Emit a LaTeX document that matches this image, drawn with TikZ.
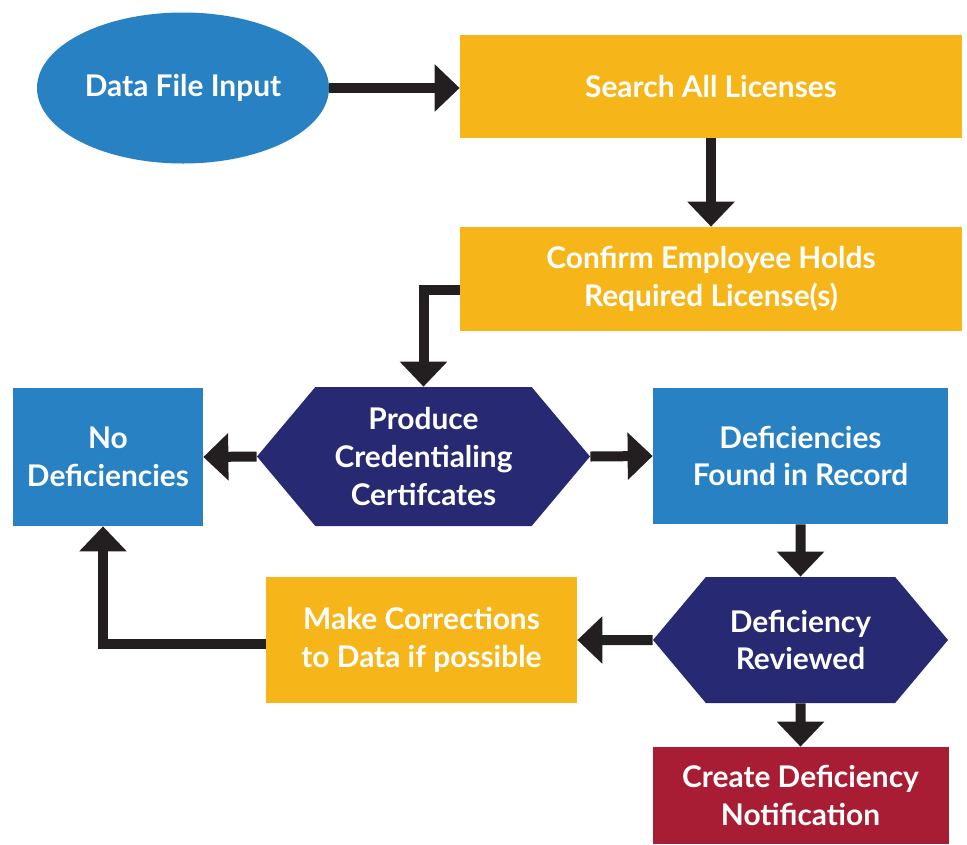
\documentclass[tikz,border=0pt]{standalone}
\usepackage{fontspec}
\setmainfont{Lato}
\usetikzlibrary{positioning}
\usetikzlibrary{shapes.geometric}
\usetikzlibrary{shapes.symbols}
\usetikzlibrary{arrows.meta}
\definecolor{flowblue}{HTML}{2881C3}
\definecolor{flowyellow}{HTML}{F6B619}
\definecolor{flownavy}{HTML}{272973}
\definecolor{flowred}{HTML}{A91D34}
\definecolor{flowarrow}{HTML}{231F20}
\tikzset{FLOWstyle/.style={
    on grid,% centres on the grid
    every node/.style={% text in every shape
      text=white,
      font=\fontsize{17}{21.5}\selectfont\bfseries,
      align=center,
      inner sep=0pt
    },
    startnode/.style={ellipse, fill=flowblue},
    stepbox/.style={rectangle, fill=##1},
    checkbox/.style={signal, signal to=west and east,
      signal pointer angle=100, fill=flownavy},
    flow/.style={->, line width=0.2cm, draw=flowarrow},
    >={Triangle[width=0.92cm, length=0.5cm]}
  }
}
\begin{document}
\begin{tikzpicture}[FLOWstyle]
  \useasboundingbox (0,0) rectangle (19.34,-16.88);
  \node[startnode, minimum width=5.84cm, minimum height=3.02cm] (input) at (3.66,-1.76) {Data File Input};
  \node[stepbox=flowyellow, minimum width=10.04cm, minimum height=2.06cm] (search) at (14.22,-1.73) {Search All Licenses};
  \node[stepbox=flowyellow, minimum width=10.04cm, minimum height=2.08cm, below=3.85cm of search] (confirm) {Confirm Employee Holds\\Required License(s)};
  \node[checkbox, minimum width=6.66cm, minimum height=2.78cm] (produce) at (8.47,-9.13) {Produce\\Credentialing\\Certifcates};
  \node[stepbox=flowblue, minimum width=3.8cm, minimum height=2.76cm] (nodef) at (2.16,-9.14) {No\\Deficiencies};
  \node[stepbox=flowblue, minimum width=5.9cm, minimum height=2.72cm] (found) at (16.01,-9.12) {Deficiencies\\Found in Record};
  \node[checkbox, minimum width=5.9cm, minimum height=2.52cm, below=3.68cm of found] (reviewed) {Deficiency\\Reviewed};
  \node[stepbox=flowyellow, minimum width=6.22cm, minimum height=2.52cm] (fix) at (8.43,-12.8) {Make Corrections\\to Data if possible};
  \node[stepbox=flowred, minimum width=5.92cm, minimum height=1.94cm, below=3.11cm of reviewed] (notify) {Create Deficiency\\Notification};

  \draw[flow] (input.east) -- (input.east -| search.west);
  \draw[flow] (search) -- (confirm);
  \draw[flow] ([yshift=-0.22cm]confirm.west) -| (produce.north);
  \draw[flow] (produce.west) -- (nodef.east);
  \draw[flow] (produce.east) -- (found.west);
  \draw[flow] (found) -- (reviewed);
  \draw[flow] (reviewed.west) -- (fix.east);
  \draw[flow] ([yshift=-0.08cm]fix.west) -| ([xshift=-0.1cm]nodef.south);
  \draw[flow] (reviewed) -- (notify);
\end{tikzpicture}
\end{document}
